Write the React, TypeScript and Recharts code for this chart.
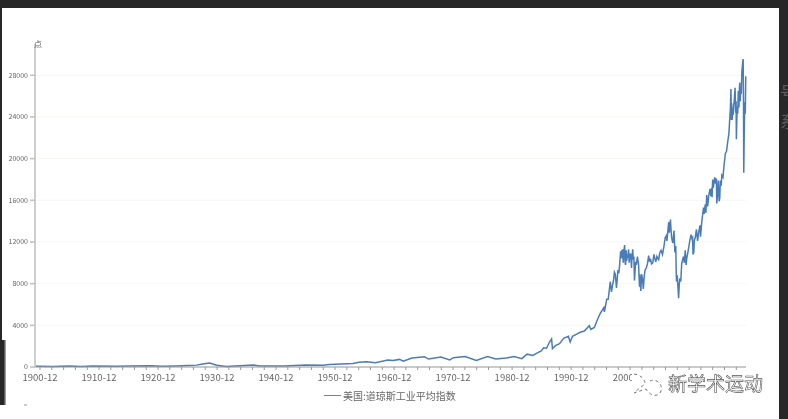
import { CartesianGrid, Legend, Line, LineChart, XAxis, YAxis } from 'recharts';

// year (decimal) of each sample, one row of dates to one row of values
const dates = [
  1900.2, 1900.96, 1903, 1906, 1907.9, 1909.9, 1914, 1916, 1919.8, 1921.6, 1924,
  1926, 1927.5, 1928.5, 1929.7, 1930.9, 1932.5, 1934, 1937.1, 1938.2, 1942.3,
  1946, 1949, 1950, 1952, 1954, 1955, 1956.3, 1957.8, 1959.9, 1960.8,
  1961.9, 1962.5, 1964, 1966.1, 1966.8, 1968.9, 1970.4, 1971, 1973, 1974.9,
  1976.8, 1978.2, 1980, 1981.3, 1982.6, 1983.5, 1984.5, 1985, 1985.9, 1986.3,
  1986.8, 1987.3, 1987.65, 1987.8, 1988.3, 1989, 1989.7, 1990.5, 1990.8, 1991.2,
  1991.9, 1992.5, 1993.2, 1994.05, 1994.3, 1994.9, 1995.5, 1995.9, 1996.5, 1996.6,
  1997, 1997.25, 1997.6, 1997.8, 1998.0, 1998.15, 1998.3, 1998.45, 1998.65, 1998.9,
  1999.05, 1999.2, 1999.35, 1999.45, 1999.55, 1999.62, 1999.7, 1999.8, 1999.9, 2000.03,
  2000.12, 2000.2, 2000.3, 2000.4, 2000.5, 2000.6, 2000.7, 2000.8, 2000.88, 2000.95,
  2001.05, 2001.2, 2001.25, 2001.4, 2001.5, 2001.6, 2001.7, 2001.8, 2001.9, 2002,
  2002.2, 2002.4, 2002.55, 2002.6, 2002.68, 2002.78, 2002.9, 2003.05, 2003.2, 2003.35,
  2003.5, 2003.7, 2003.9, 2004.1, 2004.25, 2004.4, 2004.6, 2004.8, 2005, 2005.15,
  2005.3, 2005.5, 2005.65, 2005.8, 2006, 2006.2, 2006.45, 2006.7, 2006.9, 2007.1,
  2007.2, 2007.5, 2007.6, 2007.8, 2007.9, 2008.0, 2008.2, 2008.4, 2008.55, 2008.7,
  2008.78, 2008.83, 2008.95, 2009.1, 2009.18, 2009.3, 2009.4, 2009.55, 2009.7, 2009.9,
  2010.0, 2010.15, 2010.3, 2010.45, 2010.55, 2010.75, 2010.9, 2011.1, 2011.3, 2011.45,
  2011.55, 2011.62, 2011.75, 2011.85, 2012, 2012.2, 2012.4, 2012.6, 2012.8, 2012.9,
  2013.1, 2013.4, 2013.5, 2013.7, 2013.8, 2013.95, 2014.1, 2014.3, 2014.5, 2014.65,
  2014.8, 2014.85, 2014.95, 2015.05, 2015.3, 2015.45, 2015.58, 2015.65, 2015.75, 2015.9,
  2016.05, 2016.15, 2016.25, 2016.4, 2016.5, 2016.7, 2016.85, 2017.1, 2017.3, 2017.5,
  2017.7, 2017.95, 2018.05, 2018.12, 2018.18, 2018.25, 2018.35, 2018.42, 2018.5, 2018.62,
  2018.75, 2018.85, 2018.92, 2018.97, 2019.1, 2019.2, 2019.3, 2019.4, 2019.5, 2019.55,
  2019.62, 2019.72, 2019.8, 2019.9, 2020.05, 2020.12, 2020.17, 2020.22, 2020.3, 2020.4,
  2020.48, 2020.56,
];

const dowValues = [
  66, 70, 50, 95, 60, 98, 72, 100, 115, 70, 105,
  155, 180, 290, 381, 165, 48, 100, 190, 105, 95,
  200, 175, 230, 280, 330, 450, 510, 420, 675, 615,
  730, 560, 870, 990, 760, 950, 680, 890, 1000, 620,
  1000, 770, 860, 1010, 800, 1230, 1110, 1280, 1540, 1850,
  1800, 2400, 2700, 1760, 2050, 2240, 2750, 2950, 2400, 2950,
  3150, 3330, 3450, 3960, 3600, 3800, 4650, 5150, 5700, 5300,
  6500, 6500, 8200, 7200, 7900, 8300, 9100, 8900, 7600, 9300,
  9000, 9900, 11100, 10500, 11200, 10400, 11300, 10000, 11000, 11700,
  10000, 9800, 11200, 10200, 10800, 10500, 11300, 10000, 10900, 10300,
  10900, 9500, 10300, 11300, 10300, 10600, 8300, 9200, 10100, 9800,
  10600, 9800, 7700, 8900, 8000, 7300, 8900, 8500, 7500, 8700,
  9300, 9500, 9900, 10700, 10100, 10400, 9900, 10000, 10800, 10400,
  10100, 10600, 10400, 10300, 11000, 11200, 10800, 11600, 12400, 12600,
  12100, 13900, 12900, 14150, 13100, 12400, 11900, 13100, 11000, 11600,
  9000, 8200, 8800, 7400, 6600, 8000, 8500, 8200, 9900, 10400,
  10600, 10000, 11200, 9800, 10400, 11000, 11500, 12200, 12700, 12300,
  12400, 10800, 11000, 12200, 12400, 13200, 12100, 13000, 13600, 12500,
  13900, 15300, 14700, 15600, 14800, 16500, 15400, 16500, 17100, 16400,
  17200, 16300, 18000, 17200, 18200, 17600, 18100, 15700, 16400, 17900,
  15900, 16200, 17900, 17400, 18400, 18200, 19200, 20500, 20700, 21600,
  22400, 24800, 26670, 23700, 25300, 23700, 24900, 24200, 24900, 25700,
  26800, 24400, 25500, 21870, 25000, 24300, 26500, 24900, 26900, 27300,
  25500, 26900, 26200, 28300, 29300, 29550, 26000, 18640, 22500, 25400,
  24300, 27900,
];

const yTicks = [0, 4000, 8000, 12000, 16000, 20000, 24000, 28000];

// small tick every two years, a label every ten
const xTicks = [
  1900.96, 1902.96, 1904.96, 1906.96, 1908.96, 1910.96, 1912.96, 1914.96, 1916.96, 1918.96,
  1920.96, 1922.96, 1924.96, 1926.96, 1928.96, 1930.96, 1932.96, 1934.96, 1936.96, 1938.96,
  1940.96, 1942.96, 1944.96, 1946.96, 1948.96, 1950.96, 1952.96, 1954.96, 1956.96, 1958.96,
  1960.96, 1962.96, 1964.96, 1966.96, 1968.96, 1970.96, 1972.96, 1974.96, 1976.96, 1978.96,
  1980.96, 1982.96, 1984.96, 1986.96, 1988.96, 1990.96, 1992.96, 1994.96, 1996.96, 1998.96,
  2000.96, 2002.96, 2004.96, 2006.96, 2008.96, 2010.96, 2012.96, 2014.96, 2016.96, 2018.96,
];
const labelledYears = [1900, 1910, 1920, 1930, 1940, 1950, 1960, 1970, 1980, 1990, 2000, 2010];

const seriesName = '美国:道琼斯工业平均指数';
const watermark = '新学术运动';

const data = dates.map((date, i) => ({ date, value: dowValues[i] }));

const fontFamily = '"Noto Sans CJK SC", "Open Sans", sans-serif';
const lineColor = '#4a7cb8';

function xLabel(v: number) {
  const year = Math.floor(v);
  return labelledYears.includes(year) ? `${year}-12` : '';
}

function LegendRow() {
  return (
    <div style={{ display: 'flex', alignItems: 'center', fontSize: 10, color: '#666', whiteSpace: 'nowrap' }}>
      <span style={{ width: 17, height: 1, background: '#5f86b6', marginRight: 2 }} />
      {seriesName}
    </div>
  );
}

export default function App() {
  return (
    <div style={{ position: 'fixed', left: 0, top: 0, width: 788, height: 419, background: '#272727', overflow: 'hidden', fontFamily }}>
      <div style={{ position: 'absolute', left: 780, top: 77, fontSize: 17, color: '#5a5a5a', lineHeight: '29px', width: 18 }}>号<br />系</div>
      <div style={{ position: 'absolute', left: 2, top: 8, width: 777, height: 411, background: '#fff', filter: 'blur(0.7px)' }}>
        <div style={{ position: 'absolute', left: -2, top: -8 }}>
          <LineChart
            width={788}
            height={419}
            data={data}
            margin={{ top: 44, right: 42, left: 5, bottom: 32 }}
            style={{ fontFamily }}
          >
            <CartesianGrid vertical={false} stroke="#f8f6f2" horizontalValues={yTicks} />
            <XAxis
              dataKey="date"
              type="number"
              domain={[1900.11, 2020.6]}
              ticks={xTicks}
              interval={0}
              tickFormatter={xLabel}
              height={20}
              tickSize={3}
              tickMargin={4}
              tick={{ fontSize: 9.5, fill: '#666' }}
              stroke="#999"
            />
            <YAxis
              type="number"
              domain={[0, 31000]}
              ticks={yTicks}
              interval={0}
              width={30}
              tickSize={5}
              tick={{ fontSize: 7, fill: '#666' }}
              stroke="#c2c2c2"
              strokeWidth={1.6}
              label={{ value: '点', position: 'top', offset: -3, fontSize: 8, fill: '#666', dx: 18 }}
            />
            <Line
              dataKey="value"
              name={seriesName}
              stroke={lineColor}
              strokeWidth={1.5}
              dot={false}
              isAnimationActive={false}
            />
            <Legend
              verticalAlign="middle"
              wrapperStyle={{ top: 388, left: 324, width: 150 }}
              content={<LegendRow />}
            />
          </LineChart>
        </div>
      </div>
      {/* left edge of the screenshot: dark strip near the bottom, gone below y=405 */}
      <div style={{ position: 'absolute', left: 0, top: 340, width: 6, height: 65, background: 'linear-gradient(to right, #272727 60%, #bbb)', filter: 'blur(0.6px)' }} />
      <div style={{ position: 'absolute', left: 0, top: 405, width: 3, height: 14, background: '#fff' }} />
      <div style={{ position: 'absolute', left: 24, top: 404, width: 3, height: 2, background: '#ccc', filter: 'blur(0.6px)' }} />
      <svg width={788} height={419} style={{ position: 'absolute', left: 0, top: 0, filter: 'blur(0.4px)' }}>
        <rect x={632} y={372} width={134} height={26} fill="#fff" />
        <path
          d="M 634 374 C 641 375 645 379 645 384 C 641 387 637 390 634 393 L 646 389 C 651 397 659 397 661 391 C 663 384 656 378 650 381"
          fill="none"
          stroke="#777"
          strokeDasharray="3 3"
        />
        <text x={668} y={391} fontSize={19} fill="#fff" stroke="#555" strokeWidth={0.6} fontFamily={fontFamily}>
          {watermark}
        </text>
      </svg>
    </div>
  );
}
